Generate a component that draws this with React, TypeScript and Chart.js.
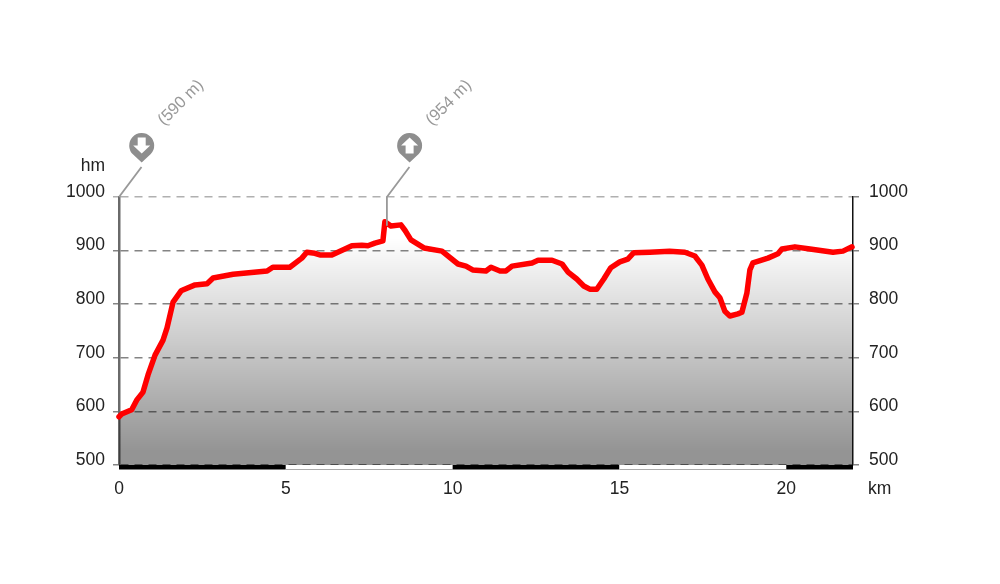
import React, { useEffect, useRef } from "react";
import { Chart, registerables } from "chart.js";

Chart.register(...registerables);

const distanceKm = [0, 0.08, 0.38, 0.53, 0.72, 0.87, 1.08, 1.32, 1.44, 1.62, 1.86, 2.28, 2.64, 2.82, 3.42, 4.44, 4.61, 5.12, 5.48, 5.63, 5.87, 6.02, 6.38, 6.77, 6.98, 7.28, 7.46, 7.67, 7.91, 7.97, 8.15, 8.45, 8.57, 8.75, 9.14, 9.68, 10.16, 10.4, 10.6, 11, 11.15, 11.42, 11.6, 11.78, 12.38, 12.56, 12.98, 13.28, 13.46, 13.72, 13.93, 14.11, 14.32, 14.53, 14.74, 15.01, 15.25, 15.43, 15.91, 16.5, 16.96, 17.26, 17.47, 17.65, 17.86, 18.01, 18.16, 18.31, 18.55, 18.67, 18.82, 18.91, 19, 19.45, 19.75, 19.87, 20.26, 20.71, 21.4, 21.7, 21.97];
const elevationM = [590, 595, 603, 621, 636, 668, 705, 733, 756, 804, 825, 836, 838, 849, 856, 862, 869, 869, 886, 897, 895, 892, 892, 903, 909, 910, 909, 914, 918, 954, 946, 948, 938, 920, 905, 899, 875, 871, 864, 862, 869, 862, 862, 871, 877, 882, 882, 875, 860, 847, 834, 828, 828, 847, 868, 879, 884, 896, 897, 899, 897, 890, 873, 847, 823, 812, 787, 778, 782, 785, 821, 864, 877, 886, 894, 903, 907, 903, 897, 899, 907];

const yTicks = [500, 600, 700, 800, 900, 1000];
const scaleBandKm = [0, 5, 10, 15, 20, 22];
const markerKm = [0, 8.03];
const markerElevation = [590, 954];
const markerLabels = ["(590 m)", "(954 m)"];
const markerDirections = ["down", "up"];
const yUnit = "hm";
const xUnit = "km";

const FONT = '17.5px "Liberation Sans", Arial, sans-serif';
const TEXT = "#222";

const overlay = {
  id: "overlay",
  afterDatasetsDraw(chart: any) {
    const { ctx, scales } = chart;
    const x = scales.x;
    const y = scales.y;
    const bottom = y.bottom;
    ctx.save();
    // distance band
    for (let i = 0; i < scaleBandKm.length - 1; i++) {
      const a = x.getPixelForValue(scaleBandKm[i]);
      const b = x.getPixelForValue(scaleBandKm[i + 1]);
      ctx.fillStyle = i % 2 === 0 ? "#000" : "#fff";
      ctx.fillRect(a, bottom, b - a, 4.5);
      if (i % 2 === 1) {
        ctx.fillStyle = "#aaa";
        ctx.fillRect(a, bottom + 4, b - a, 1);
      }
    }
    // markers
    markerKm.forEach((km, i) => {
      const px = x.getPixelForValue(km);
      const top = y.top;
      const cx = px + 22.7;
      const cy = top - 51.5;
      ctx.strokeStyle = "#999";
      ctx.lineWidth = 1.8;
      ctx.beginPath();
      ctx.moveTo(px + 22.5, top - 30);
      ctx.lineTo(px, top);
      const peak = y.getPixelForValue(markerElevation[i]);
      if (i === 1) ctx.lineTo(px, peak + 4);
      ctx.stroke();

      ctx.fillStyle = "#8e8e8e";
      ctx.beginPath();
      ctx.arc(cx, cy, 12.5, Math.PI * 0.74, Math.PI * 0.26);
      ctx.lineTo(cx, cy + 17);
      ctx.closePath();
      ctx.fill();

      const d = markerDirections[i] === "down" ? 1 : -1;
      ctx.fillStyle = "#fff";
      ctx.beginPath();
      ctx.moveTo(cx - 4, cy - 8 * d);
      ctx.lineTo(cx + 4, cy - 8 * d);
      ctx.lineTo(cx + 4, cy);
      ctx.lineTo(cx + 8.5, cy);
      ctx.lineTo(cx, cy + 8 * d);
      ctx.lineTo(cx - 8.5, cy);
      ctx.lineTo(cx - 4, cy);
      ctx.closePath();
      ctx.fill();

      ctx.save();
      ctx.translate(px + 45, top - 71);
      ctx.rotate(-Math.PI / 4);
      ctx.fillStyle = "#999";
      ctx.font = '16.5px "Liberation Sans", Arial, sans-serif';
      ctx.textAlign = "left";
      ctx.textBaseline = "alphabetic";
      ctx.fillText(markerLabels[i], 0, 0);
      ctx.restore();
    });
    // units
    ctx.fillStyle = TEXT;
    ctx.font = FONT;
    ctx.textBaseline = "alphabetic";
    ctx.textAlign = "right";
    ctx.fillText(yUnit, 105, 171);
    ctx.textAlign = "left";
    ctx.fillText(xUnit, 868, 494);
    ctx.restore();
  },
};

export default function App() {
  const ref = useRef<HTMLCanvasElement>(null);
  useEffect(() => {
    const yLabel = (v: any) => [String(v), ""];
    const tickFont = { family: '"Liberation Sans", Arial, sans-serif', size: 17.5, lineHeight: "10px" };
    const yCommon = {
      type: "linear" as const,
      min: 500,
      max: 1000,
      afterBuildTicks: (s: any) => {
        s.ticks = yTicks.map((value) => ({ value }));
      },
    };
    const chart = new Chart(ref.current!, {
      type: "line",
      data: {
        datasets: [
          {
            data: distanceKm.map((x, i) => ({ x, y: elevationM[i] })),
            borderColor: "#ff0000",
            borderWidth: 5.5,
            borderJoinStyle: "round",
            borderCapStyle: "round",
            pointRadius: 0,
            tension: 0,
            clip: false,
            fill: "start",
            backgroundColor: (c: any) => {
              const area = c.chart.chartArea;
              if (!area) return "rgba(0,0,0,0.2)";
              const g = c.chart.ctx.createLinearGradient(0, area.top + 41, 0, area.top + 254);
              g.addColorStop(0, "rgba(0,0,0,0)");
              g.addColorStop(1, "rgba(0,0,0,0.42)");
              return g;
            },
          },
        ],
      },
      options: {
        animation: false,
        responsive: false,
        layout: { padding: { top: 197, left: 0, right: 0, bottom: 0 } },
        plugins: { legend: { display: false }, tooltip: { enabled: false } },
        scales: {
          x: {
            type: "linear",
            min: 0,
            max: 22,
            grid: { display: false },
            border: { display: false },
            afterFit: (s: any) => {
              s.height = 119;
            },
            afterBuildTicks: (s: any) => {
              s.ticks = scaleBandKm.slice(0, 5).map((value) => ({ value }));
            },
            ticks: {
              autoSkip: false,
              maxRotation: 0,
              padding: 6,
              color: TEXT,
              font: { family: '"Liberation Sans", Arial, sans-serif', size: 17.5 },
            },
          },
          y: {
            ...yCommon,
            position: "left",
            afterFit: (s: any) => {
              s.width = 119;
            },
            grid: {
              color: (c: any) => (c.tick && c.tick.value === 1000 ? "#b0b0b0" : "#848484"),
              tickColor: (c: any) => (c.tick && c.tick.value === 1000 ? "#b0b0b0" : "#848484"),
              lineWidth: 1.5,
              tickLength: 6,
              tickBorderDash: [],
            },
            border: { color: "#6a6a6a", width: 2.5, dash: [8, 6] },
            ticks: { autoSkip: false, padding: 8, color: TEXT, font: tickFont, callback: yLabel },
          },
          y2: {
            ...yCommon,
            position: "right",
            afterFit: (s: any) => {
              s.width = 147;
            },
            grid: {
              drawOnChartArea: false,
              color: "#848484",
              lineWidth: 1.5,
              tickLength: 6,
            },
            border: { color: "#111", width: 1.5 },
            ticks: { autoSkip: false, padding: 10, color: TEXT, font: tickFont, callback: yLabel },
          },
        },
      },
      plugins: [overlay],
    } as any);
    return () => chart.destroy();
  }, []);
  return (
    <div style={{ position: "fixed", left: 0, top: 0, width: 1000, height: 584 }}>
      <canvas ref={ref} width={1000} height={584} style={{ display: "block", filter: "blur(0.5px)" }} />
    </div>
  );
}
